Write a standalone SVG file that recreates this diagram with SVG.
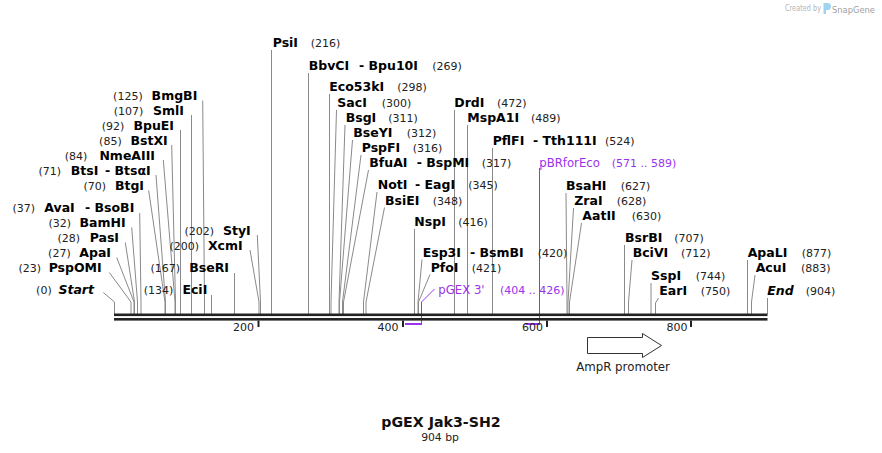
<svg xmlns="http://www.w3.org/2000/svg" width="882" height="453" viewBox="0 0 882 453">
<style>
.e{font-family:"DejaVu Sans",sans-serif;font-weight:bold;font-size:12.5px;fill:#000}
.i{font-style:italic}
.n{font-family:"DejaVu Sans",sans-serif;font-size:11px;fill:#222}
.p{font-family:"DejaVu Sans",sans-serif;font-size:11.7px;fill:#9933ee}
.pn{font-family:"DejaVu Sans",sans-serif;font-size:11px;fill:#9933ee}
.r{text-anchor:end}
.l{stroke:#8a8a8a;stroke-width:1;fill:none}
.pl{stroke:#9933ee;stroke-width:1;fill:none}
.ph{stroke:#9933ee;stroke-width:2;fill:none}
.t{font-family:"DejaVu Sans",sans-serif;font-size:11px;fill:#222;text-anchor:end}
</style>
<rect width="882" height="453" fill="#fff"/>

<g id="watermark">
<text x="785" y="11" font-family="DejaVu Sans,sans-serif" font-size="8" fill="#b5b5b5" textLength="36" lengthAdjust="spacingAndGlyphs">Created by</text>
<path d="M823.5 3 h4 a3.5 3.5 0 0 1 0 7 h-1.5 v4 h-2.5 z" fill="#9fd3f0"/>
<text x="832" y="12.5" font-family="DejaVu Sans,sans-serif" font-size="9.5" fill="#a0a0a0" textLength="43" lengthAdjust="spacingAndGlyphs">SnapGene</text>
</g>

<g id="connectors">
<polyline class="l" points="202.7,100.5 204.5,302 204.5,314"/>
<polyline class="l" points="191.5,115 191.5,314"/>
<polyline class="l" points="180.5,130 180.5,314"/>
<polyline class="l" points="171.7,145 175.5,302 175.5,314"/>
<polyline class="l" points="163.3,160 175,302 175,314"/>
<polyline class="l" points="156,175 165.5,302 165.5,314"/>
<polyline class="l" points="148.7,190.5 165,302 165,314"/>
<polyline class="l" points="139.7,213 141,302 141,314"/>
<polyline class="l" points="131.7,227.5 137.5,302 137.5,314"/>
<polyline class="l" points="125.3,242.5 134.5,302 134.5,314"/>
<polyline class="l" points="116.7,257.5 134,302 134,314"/>
<polyline class="l" points="109.3,272.5 131,302 131,314"/>
<polyline class="l" points="103.3,292.5 114.5,302 114.5,314"/>
<polyline class="l" points="257.3,235 260.5,302 260.5,314"/>
<polyline class="l" points="250,250 259,302 259,314"/>
<polyline class="l" points="234.5,273 234.5,314"/>
<polyline class="l" points="211.5,295 211.5,314"/>
<polyline class="l" points="271.5,50 271.5,314"/>
<polyline class="l" points="308.5,73 308.5,314"/>
<polyline class="l" points="329.5,94 329.5,314"/>
<polyline class="l" points="336.5,110 331,302 331,314"/>
<polyline class="l" points="345,125 339,302 339,314"/>
<polyline class="l" points="352.5,140 339.5,302 339.5,314"/>
<polyline class="l" points="361,155 342.5,302 342.5,314"/>
<polyline class="l" points="368.5,170 343.5,302 343.5,314"/>
<polyline class="l" points="377,192 363.5,302 363.5,314"/>
<polyline class="l" points="384.5,207.5 366,302 366,314"/>
<polyline class="l" points="414.5,229 414.5,314"/>
<polyline class="l" points="422,259.5 418,302 418,314"/>
<polyline class="l" points="430,274.5 418.5,302 418.5,314"/>
<polyline class="l" points="454.5,110 454.5,314"/>
<polyline class="l" points="467.5,125 467.5,314"/>
<polyline class="l" points="492.5,148 492.5,314"/>
<polyline class="l" points="566,193 567,302 567,314"/>
<polyline class="l" points="573.5,208 568,302 568,314"/>
<polyline class="l" points="581.5,223 569.5,302 569.5,314"/>
<polyline class="l" points="624.5,245 624.5,314"/>
<polyline class="l" points="632,260 628.5,302 628.5,314"/>
<polyline class="l" points="651,283 651,314"/>
<polyline class="l" points="658.5,298 655.5,303 655.5,314"/>
<polyline class="l" points="747.5,260 747.5,314"/>
<polyline class="l" points="755,275 751.5,302 751.5,314"/>
<polyline class="l" points="767.5,298 767.5,314"/>
<polyline class="pl" points="434.5,289 421.5,302 421.5,324"/>
<line class="ph" x1="405" y1="324" x2="422" y2="324"/>
<polyline class="pl" points="539.5,168 539.5,324"/>
<line class="ph" x1="525.5" y1="324" x2="540" y2="324"/>
</g>

<g id="backbone">
<rect x="114" y="313.5" width="653.5" height="2.6" fill="#222"/>
<rect x="114" y="318" width="653.5" height="2.6" fill="#222"/>
<rect x="257.5" y="320.5" width="2" height="6.5" fill="#222"/>
<rect x="402" y="320.5" width="2" height="6.5" fill="#222"/>
<rect x="546" y="320.5" width="2" height="6.5" fill="#222"/>
<rect x="690" y="320.5" width="2" height="6.5" fill="#222"/>
<text class="t" x="254" y="331">200</text>
<text class="t" x="398.5" y="331">400</text>
<text class="t" x="543" y="331">600</text>
<text class="t" x="687.5" y="331">800</text>
</g>

<g id="Start"><text class="n r" x="51.7" y="294">(0)</text><text class="e i r" x="94" y="294">Start</text></g>
<g id="PspOMI"><text class="n r" x="41" y="271.5">(23)</text><text class="e r" x="101.7" y="271.5">PspOMI</text></g>
<g id="ApaI"><text class="n r" x="70.7" y="256.5">(27)</text><text class="e r" x="111" y="256.5">ApaI</text></g>
<g id="PasI"><text class="n r" x="80" y="241.5">(28)</text><text class="e r" x="119" y="241.5">PasI</text></g>
<g id="BamHI"><text class="n r" x="71" y="226.5">(32)</text><text class="e r" x="125.7" y="226.5">BamHI</text></g>
<g id="AvaI"><text class="n r" x="35" y="211.5">(37)</text><text class="e" x="44.3" y="211.5">AvaI</text><text class="e r" x="134.3" y="211.5">- BsoBI</text></g>
<g id="BtgI"><text class="n r" x="106" y="189.5">(70)</text><text class="e r" x="144" y="189.5">BtgI</text></g>
<g id="BtsI"><text class="n r" x="61" y="174.5">(71)</text><text class="e" x="70.7" y="174.5">BtsI</text><text class="e r" x="150.7" y="174.5">- BtsαI</text></g>
<g id="NmeAIII"><text class="n r" x="87.3" y="159.5">(84)</text><text class="e r" x="155" y="159.5">NmeAIII</text></g>
<g id="BstXI"><text class="n r" x="121.7" y="144.5">(85)</text><text class="e r" x="167.7" y="144.5">BstXI</text></g>
<g id="BpuEI"><text class="n r" x="124.3" y="129.5">(92)</text><text class="e r" x="174" y="129.5">BpuEI</text></g>
<g id="SmlI"><text class="n r" x="143.3" y="114.5">(107)</text><text class="e r" x="184" y="114.5">SmlI</text></g>
<g id="BmgBI"><text class="n r" x="142.7" y="99.5">(125)</text><text class="e r" x="197.3" y="99.5">BmgBI</text></g>
<g id="EciI"><text class="n r" x="173.3" y="294">(134)</text><text class="e r" x="207.3" y="294">EciI</text></g>
<g id="BseRI"><text class="n r" x="180" y="271.5">(167)</text><text class="e r" x="229" y="271.5">BseRI</text></g>
<g id="XcmI"><text class="n r" x="199" y="249.5">(200)</text><text class="e r" x="242.7" y="249.5">XcmI</text></g>
<g id="StyI"><text class="n r" x="214" y="234.5">(202)</text><text class="e r" x="250.7" y="234.5">StyI</text></g>

<g id="PsiI"><text class="e" x="272.7" y="46.5">PsiI</text><text class="n" x="310.7" y="46.5">(216)</text></g>
<g id="BbvCI"><text class="e" x="308.7" y="69.5">BbvCI</text><text class="e" x="359" y="69.5">- Bpu10I</text><text class="n" x="432.3" y="69.5">(269)</text></g>
<g id="Eco53kI"><text class="e" x="329.3" y="91">Eco53kI</text><text class="n" x="397.3" y="91">(298)</text></g>
<g id="SacI"><text class="e" x="337.3" y="107">SacI</text><text class="n" x="381.7" y="107">(300)</text></g>
<g id="BsgI"><text class="e" x="345.7" y="121.5">BsgI</text><text class="n" x="388.3" y="121.5">(311)</text></g>
<g id="BseYI"><text class="e" x="353.3" y="136.5">BseYI</text><text class="n" x="406.7" y="136.5">(312)</text></g>
<g id="PspFI"><text class="e" x="361.7" y="151.5">PspFI</text><text class="n" x="412.7" y="151.5">(316)</text></g>
<g id="BfuAI"><text class="e" x="369.3" y="167">BfuAI</text><text class="e" x="416.7" y="167">- BspMI</text><text class="n" x="481.7" y="167">(317)</text></g>
<g id="NotI"><text class="e" x="377.7" y="189">NotI</text><text class="e" x="415" y="189">- EagI</text><text class="n" x="468.3" y="189">(345)</text></g>
<g id="BsiEI"><text class="e" x="385" y="204.5">BsiEI</text><text class="n" x="432.7" y="204.5">(348)</text></g>
<g id="NspI"><text class="e" x="414.3" y="226">NspI</text><text class="n" x="458.3" y="226">(416)</text></g>
<g id="Esp3I"><text class="e" x="422.7" y="256.5">Esp3I</text><text class="e" x="470" y="256.5">- BsmBI</text><text class="n" x="537.7" y="256.5">(420)</text></g>
<g id="PfoI"><text class="e" x="430.7" y="271.5">PfoI</text><text class="n" x="471.7" y="271.5">(421)</text></g>
<g id="pGEX3"><text class="p" x="438.3" y="294">pGEX 3'</text><text class="pn" x="500" y="294">(404 .. 426)</text></g>
<g id="DrdI"><text class="e" x="454.3" y="107">DrdI</text><text class="n" x="497" y="107">(472)</text></g>
<g id="MspA1I"><text class="e" x="467.3" y="121.5">MspA1I</text><text class="n" x="531" y="121.5">(489)</text></g>
<g id="PflFI"><text class="e" x="492.7" y="145">PflFI</text><text class="e" x="533" y="145">- Tth111I</text><text class="n" x="605" y="145">(524)</text></g>
<g id="pBRforEco"><text class="p" x="539.3" y="167">pBRforEco</text><text class="pn" x="611.7" y="167">(571 .. 589)</text></g>
<g id="BsaHI"><text class="e" x="566" y="189.5">BsaHI</text><text class="n" x="620.7" y="189.5">(627)</text></g>
<g id="ZraI"><text class="e" x="574.3" y="204.5">ZraI</text><text class="n" x="616.7" y="204.5">(628)</text></g>
<g id="AatII"><text class="e" x="582.3" y="219.5">AatII</text><text class="n" x="631.7" y="219.5">(630)</text></g>
<g id="BsrBI"><text class="e" x="625" y="241.5">BsrBI</text><text class="n" x="674.3" y="241.5">(707)</text></g>
<g id="BciVI"><text class="e" x="632.7" y="256.5">BciVI</text><text class="n" x="681" y="256.5">(712)</text></g>
<g id="SspI"><text class="e" x="651" y="279.5">SspI</text><text class="n" x="695.7" y="279.5">(744)</text></g>
<g id="EarI"><text class="e" x="659.3" y="294.5">EarI</text><text class="n" x="700.7" y="294.5">(750)</text></g>
<g id="ApaLI"><text class="e" x="747.7" y="256.5">ApaLI</text><text class="n" x="801.7" y="256.5">(877)</text></g>
<g id="AcuI"><text class="e" x="755.7" y="271.5">AcuI</text><text class="n" x="801" y="271.5">(883)</text></g>
<g id="End"><text class="e i" x="767.3" y="294.5">End</text><text class="n" x="805.7" y="294.5">(904)</text></g>

<g id="AmpR_promoter">
<polygon points="587.5,337.5 642.5,337.5 642.5,333.5 661.5,345.5 642.5,357.5 642.5,353.5 587.5,353.5" fill="#fff" stroke="#333" stroke-width="1"/>
<text x="623" y="371" text-anchor="middle" font-family="DejaVu Sans,sans-serif" font-size="11.8" fill="#222">AmpR promoter</text>
</g>

<g id="title">
<text x="441" y="427" text-anchor="middle" font-family="DejaVu Sans,sans-serif" font-weight="bold" font-size="14.2" fill="#111">pGEX Jak3-SH2</text>
<text x="440" y="441" text-anchor="middle" font-family="DejaVu Sans,sans-serif" font-size="10.8" fill="#222">904 bp</text>
</g>
</svg>
